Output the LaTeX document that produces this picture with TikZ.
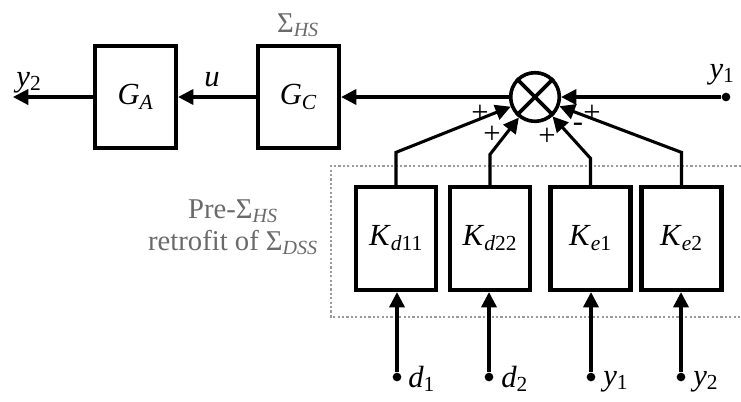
\documentclass[tikz,border=0pt]{standalone}
\usepackage{fontspec}
\setmainfont{Liberation Serif}
\usetikzlibrary{arrows.meta}
\definecolor{gtext}{HTML}{6A6A6A}
\definecolor{gdot}{HTML}{9A9A9A}
\newcommand{\sbs}[2]{\textit{#1}\textsubscript{#2}}
\begin{document}
\begin{tikzpicture}[x=0.75pt,y=-0.75pt,
  font=\fontsize{23}{27}\selectfont,
  gbox/.style={draw,line width=3.2pt,minimum width=60.75pt,minimum height=76.5pt,inner sep=0pt},
  kbox/.style={draw,line width=3.2pt,minimum width=60pt,minimum height=77.25pt,inner sep=0pt},
  conn/.style={line width=2.3pt},
  arr/.style={conn,-{Triangle[length=11.5pt,width=11.5pt]}},
  dot/.style={circle,fill,inner sep=0pt,minimum size=6.5pt},
  lbl/.style={inner sep=0pt,anchor=base},
  gray label/.style={text=gtext,font=\fontsize{21.5}{24}\selectfont},
  frame/.style={draw=gdot,line width=1.7pt,dash pattern=on 1.7pt off 1.6pt}]
\useasboundingbox (0,0) rectangle (741,401);

% dotted frame (open to the right)
\draw[frame] (741,166) -- (331,166) -- (331,317) -- (741,317);

% forward path
\node[gbox] (GA) at (135.5,97) {\sbs{G}{\textit{A}}};
\node[gbox] (GC) at (298.5,97) {\sbs{G}{\textit{C}}};
\node[circle,draw,line width=2.7pt,minimum size=36.5pt,inner sep=0pt] (S) at (535,97) {};
\draw[line width=2.7pt] (S.45) -- (S.225) (S.135) -- (S.315);
\coordinate (y2end) at (13,97);
\node[dot] (y1dot) at (726,97) {};

\draw[arr] (GA.west) -- (y2end);
\draw[arr] (GC.west) -- (GA.east);
\draw[arr] (S.west) -- (GC.east);
\draw[arr] (y1dot) -- (S.east);

\node[lbl] (ly2) at (29,86) {\sbs{y}{2}};
\node[lbl] (lu) at (212,86) {\textit{u}};
\node[lbl,gray label] (lhs) at (298,32) {Σ\textsubscript{\textit{HS}}};
\node[lbl] (ly1) at (722,78) {\sbs{y}{1}};

% gain blocks
\node[kbox] (K1) at (396,238.5) {\sbs{K}{\textit{d}11}};
\node[kbox] (K2) at (490,238.5) {\sbs{K}{\textit{d}22}};
\node[kbox] (K3) at (590.5,238.5) {\sbs{K}{\textit{e}1}};
\node[kbox] (K4) at (681.5,238.5) {\sbs{K}{\textit{e}2}};

\draw[arr] (K1.north) -- ++(0,-32.5) -- (S);
\draw[arr] (K2.north) -- ++(0,-30.5) -- (S);
\draw[arr] (K3.north) -- ++(0,-26.5) -- (S);
\draw[arr] (K4.north) -- ++(0,-32.5) -- (S);

\node[inner sep=0pt] (p1) at (480,114) {+};
\node[inner sep=0pt] (p2) at (492,135) {+};
\node[inner sep=0pt] (p3) at (547,137) {+};
\node[inner sep=0pt] (m4) at (578,127) {-};
\node[inner sep=0pt] (p5) at (592,114) {+};

% inputs
\node[dot] (d1dot) at (397,377) {};
\node[dot] (d2dot) at (489,377) {};
\node[dot] (y1bdot) at (591,377) {};
\node[dot] (y2bdot) at (681,377) {};
\draw[arr] (d1dot) -- (d1dot |- K1.south);
\draw[arr] (d2dot) -- (d2dot |- K2.south);
\draw[arr] (y1bdot) -- (y1bdot |- K3.south);
\draw[arr] (y2bdot) -- (y2bdot |- K4.south);

\node[lbl,anchor=base west] (ld1) at (408,387) {\sbs{d}{1}};
\node[lbl,anchor=base west] (ld2) at (501,387) {\sbs{d}{2}};
\node[lbl,anchor=base west] (ly1b) at (603,385) {\sbs{y}{1}};
\node[lbl,anchor=base west] (ly2b) at (693,385) {\sbs{y}{2}};

\node[gray label,align=center,inner sep=0pt] (pre) at (233,227)
  {Pre-Σ\textsubscript{\textit{HS}}\\retrofit of Σ\textsubscript{\textit{DSS}}};
\end{tikzpicture}
\end{document}
